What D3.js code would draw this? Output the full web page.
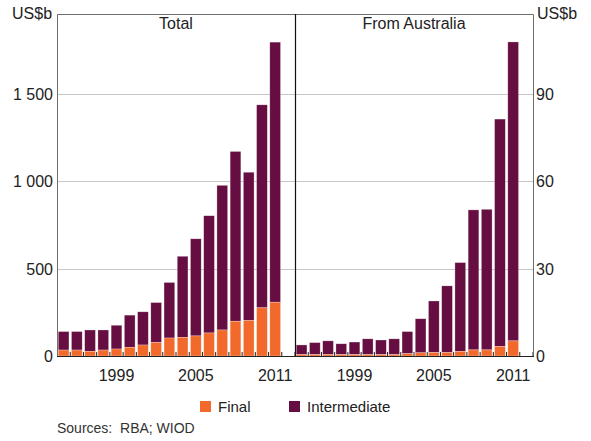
<!DOCTYPE html>
<html>
<head>
<meta charset="utf-8">
<script src="https://cdn.jsdelivr.net/npm/d3@7"></script>
<style>
  body { margin: 0; background: #fff; }
  svg { display: block; font-family: "Liberation Sans", Arial, sans-serif; }
  .tick-label { font-size: 16px; fill: #222; }
  .panel-title { font-size: 16px; fill: #222; text-anchor: middle; }
  .legend-text { font-size: 15px; fill: #222; }
  .source { font-size: 14px; fill: #333; }
</style>
</head>
<body>
<svg id="chart"></svg>
<script>
var width = 591;
var height = 441;

// data (US$b)
var years = [1995, 1996, 1997, 1998, 1999, 2000, 2001, 2002, 2003, 2004, 2005, 2006, 2007, 2008, 2009, 2010, 2011];
var totalFinal = [34, 34, 27, 34, 40, 50, 63, 77, 103, 107, 115, 132, 149, 199, 203, 276, 308];
var totalIntermediate = [106, 106, 122, 115, 136, 184, 190, 229, 318, 464, 556, 671, 828, 972, 849, 1162, 1489];
var ausFinal = [0.5, 0.5, 0.5, 0.5, 0.5, 0.5, 0.5, 0.5, 0.8, 1.1, 1.2, 1.2, 1.6, 2.1, 2.1, 3.3, 5.2];
var ausIntermediate = [3.3, 4.1, 4.7, 3.7, 4.3, 5.4, 5.0, 5.4, 7.6, 11.7, 17.7, 22.9, 30.5, 48.1, 48.3, 78.1, 102.7];
var leftTicks = [0, 500, 1000, 1500];
var rightTicks = [0, 30, 60, 90];
var xLabelYears = [1999, 2005, 2011];
var seriesNames = ['Final', 'Intermediate'];

var colors = { Final: '#f26a2b', Intermediate: '#660e42' };

var plotTop = 14;
var plotBottom = 356;
var panelLeft = 57;
var panelMid = 295;
var panelRight = 533;

var svg = d3.select('#chart').attr('width', width).attr('height', height);

// slots run one year past the data, leaving an empty slot at each panel's right
var slots = years.concat([2012]);

var yLeft = d3.scaleLinear().domain([0, 1958]).range([plotBottom, plotTop]);
var yRight = d3.scaleLinear().domain([0, 117.5]).range([plotBottom, plotTop]);

var panels = [
  { title: 'Total', x0: panelLeft, x1: panelMid, y: yLeft, fin: totalFinal, inter: totalIntermediate },
  { title: 'From Australia', x0: panelMid, x1: panelRight, y: yRight, fin: ausFinal, inter: ausIntermediate }
];

// gridlines across both panels
var grid = svg.append('g');
grid.selectAll('line').data(leftTicks.slice(1)).enter().append('line')
  .attr('x1', panelLeft).attr('x2', panelRight)
  .attr('y1', function(d) { return Math.round(yLeft(d)) + 0.5; })
  .attr('y2', function(d) { return Math.round(yLeft(d)) + 0.5; })
  .attr('stroke', '#c6c6c6').attr('stroke-width', 1);

panels.forEach(function(p) {
  var x = d3.scaleBand().domain(slots).range([p.x0, p.x1]).paddingInner(0.19).paddingOuter(0.095);
  var stack = years.map(function(yr, i) {
    return { year: yr, fin: p.fin[i], inter: p.inter[i] };
  });
  var g = svg.append('g');
  g.selectAll('.inter').data(stack).enter().append('rect')
    .attr('x', function(d) { return x(d.year); })
    .attr('width', x.bandwidth())
    .attr('y', function(d) { return p.y(d.fin + d.inter); })
    .attr('height', function(d) { return p.y(d.fin) - p.y(d.fin + d.inter); })
    .attr('fill', colors.Intermediate)
    .attr('stroke', '#fff').attr('stroke-opacity', 0.45).attr('stroke-width', 0.6);
  g.selectAll('.fin').data(stack).enter().append('rect')
    .attr('x', function(d) { return x(d.year); })
    .attr('width', x.bandwidth())
    .attr('y', function(d) { return p.y(d.fin); })
    .attr('height', function(d) { return p.y(0) - p.y(d.fin); })
    .attr('fill', colors.Final)
    .attr('stroke', '#fff').attr('stroke-opacity', 0.45).attr('stroke-width', 0.6);

  // small upward ticks at the slot boundaries
  var step = x.step();
  g.selectAll('.xtick').data(slots).enter().append('line')
    .attr('x1', function(d) { return x(d) - step * 0.095 + step; })
    .attr('x2', function(d) { return x(d) - step * 0.095 + step; })
    .attr('y1', plotBottom).attr('y2', plotBottom - 4)
    .attr('stroke', '#222').attr('stroke-width', 1);

  g.selectAll('.xlabel').data(xLabelYears).enter().append('text')
    .attr('class', 'tick-label')
    .attr('x', function(d) { return x(d) + x.bandwidth() / 2; })
    .attr('y', 381)
    .attr('text-anchor', 'middle')
    .text(function(d) { return d; });

  svg.append('text').attr('class', 'panel-title')
    .attr('x', (p.x0 + p.x1) / 2).attr('y', 29)
    .text(p.title);
});

// frame
svg.append('path')
  .attr('d', 'M' + (panelLeft + 0.5) + ',' + plotBottom + 'V' + (plotTop + 0.5) + 'H' + (panelRight + 0.5) + 'V' + plotBottom)
  .attr('fill', 'none').attr('stroke', '#6e6e6e').attr('stroke-width', 1);
svg.append('line')
  .attr('x1', panelMid + 0.5).attr('x2', panelMid + 0.5)
  .attr('y1', plotTop).attr('y2', plotBottom)
  .attr('stroke', '#111').attr('stroke-width', 1.2);
svg.append('line')
  .attr('x1', panelLeft).attr('x2', panelRight + 1)
  .attr('y1', plotBottom + 0.5).attr('y2', plotBottom + 0.5)
  .attr('stroke', '#222').attr('stroke-width', 1.2);

svg.selectAll('.ylabel-left').data(leftTicks).enter().append('text')
  .attr('class', 'tick-label')
  .attr('x', 53).attr('y', function(d) { return yLeft(d) + 6; })
  .attr('text-anchor', 'end')
  .text(function(d) { return d >= 1000 ? String(d).slice(0, 1) + ' ' + String(d).slice(1) : d; });
svg.selectAll('.ylabel-right').data(rightTicks).enter().append('text')
  .attr('class', 'tick-label')
  .attr('x', 536).attr('y', function(d) { return yRight(d) + 6; })
  .attr('text-anchor', 'start')
  .text(function(d) { return d; });

svg.append('text').attr('class', 'tick-label').attr('x', 12).attr('y', 19).text('US$b');
svg.append('text').attr('class', 'tick-label').attr('x', 537).attr('y', 19).text('US$b');

// legend
var legendX = [200, 289];
var legend = svg.selectAll('.legend').data(seriesNames).enter().append('g')
  .attr('transform', function(d, i) { return 'translate(' + legendX[i] + ',401)'; });
legend.append('rect').attr('width', 11).attr('height', 11)
  .attr('fill', function(d) { return colors[d]; });
legend.append('text').attr('class', 'legend-text')
  .attr('x', 18).attr('y', 11)
  .text(function(d) { return d; });

svg.append('text').attr('class', 'source')
  .attr('x', 57).attr('y', 433)
  .attr('xml:space', 'preserve')
  .text('Sources:  RBA; WIOD');
</script>
</body>
</html>
